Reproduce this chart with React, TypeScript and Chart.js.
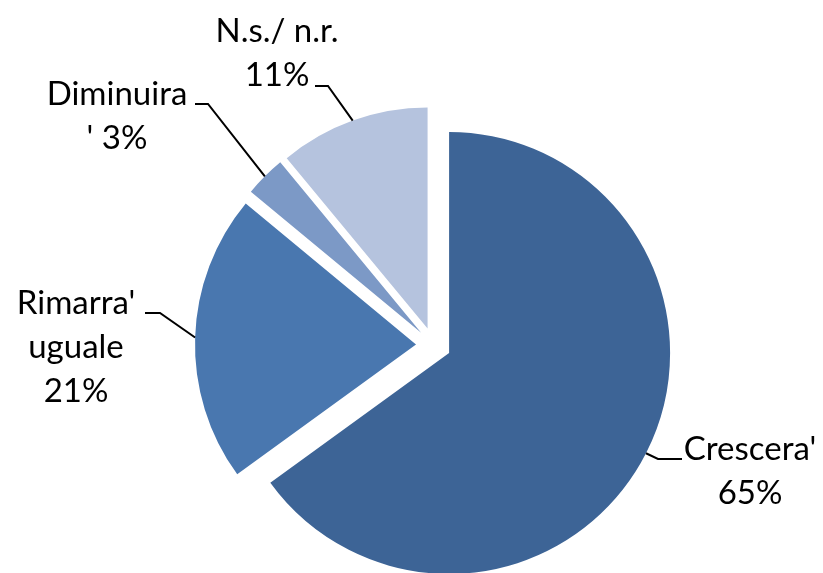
import React, { useEffect, useRef } from "react";
import { Chart, registerables } from "chart.js";

Chart.register(...registerables);

// ---- data ----
const categories = ["Crescera'", "Rimarra' uguale", "Diminuira'", "N.s./ n.r."];
const values = [65, 21, 3, 11];
// label text lines; {p} is replaced by the percentage
const labelTemplates = [
  ["Crescera'", "{p}"],
  ["Rimarra'", "uguale", "{p}"],
  ["Diminuira", "' {p}"],
  ["N.s./ n.r.", "{p}"],
];
const colors = ["#3D6496", "#4977AF", "#7C99C6", "#B5C3DE"];

// ---- layout / style ----
const W = 823;
const H = 573;
const EXPLODE = 17.5;
const FONT = "33px Lato";
const LINE_GAP = 44;
// per-label: text centre x, first baseline y, leader elbow, leader end (near text)
const labelLayout = [
  { cx: 750, by: 460, elbow: [658, 459], end: [682, 459] },
  { cx: 76, by: 314, elbow: [160, 313], end: [145, 313] },
  { cx: 117, by: 105, elbow: [208, 104], end: [195, 104] },
  { cx: 277, by: 42, elbow: [328, 86], end: [315, 86] },
];

const explodePlugin = {
  id: "explode",
  afterDatasetUpdate(chart: any, args: any) {
    const meta = chart.getDatasetMeta(args.index);
    meta.data.forEach((arc: any) => {
      const mid = (arc.startAngle + arc.endAngle) / 2;
      arc.x += Math.cos(mid) * EXPLODE;
      arc.y += Math.sin(mid) * EXPLODE;
    });
  },
};

const labelPlugin = {
  id: "pieLabels",
  afterDraw(chart: any) {
    const ctx = chart.ctx;
    const meta = chart.getDatasetMeta(0);
    ctx.save();
    ctx.font = FONT;
    ctx.fillStyle = "#000";
    ctx.strokeStyle = "#000";
    ctx.lineWidth = 2;
    ctx.textAlign = "center";
    ctx.textBaseline = "alphabetic";
    meta.data.forEach((arc: any, i: number) => {
      const mid = (arc.startAngle + arc.endAngle) / 2;
      const ex = arc.x + Math.cos(mid) * arc.outerRadius;
      const ey = arc.y + Math.sin(mid) * arc.outerRadius;
      const L = labelLayout[i];
      ctx.beginPath();
      ctx.moveTo(ex, ey);
      ctx.lineTo(L.elbow[0], L.elbow[1]);
      ctx.lineTo(L.end[0], L.end[1]);
      ctx.stroke();
      labelTemplates[i].forEach((t, j) => {
        const txt = t.replace("{p}", values[i] + "%");
        ctx.fillText(txt, L.cx, L.by + j * LINE_GAP);
      });
    });
    ctx.restore();
  },
};

export default function App() {
  const ref = useRef<HTMLCanvasElement>(null);
  useEffect(() => {
    document.body.style.margin = "0";
    const chart = new Chart(ref.current as HTMLCanvasElement, {
      type: "pie",
      data: {
        labels: categories,
        datasets: [
          {
            data: values,
            backgroundColor: colors,
            borderWidth: 0,
            radius: 221,
          } as any,
        ],
      },
      options: {
        responsive: false,
        animation: false,
        radius: 221,
        layout: { padding: { left: 44, top: 117, right: 0, bottom: 0 } },
        plugins: { legend: { display: false }, tooltip: { enabled: false } },
      } as any,
      plugins: [explodePlugin, labelPlugin],
    });
    return () => chart.destroy();
  }, []);
  return (
    <div style={{ position: "absolute", left: 0, top: 0, width: W, height: H }}>
      <canvas ref={ref} width={W} height={H} />
    </div>
  );
}
